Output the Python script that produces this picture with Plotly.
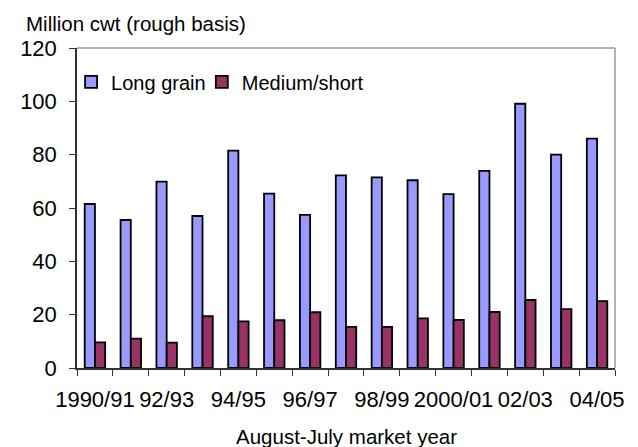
import plotly.graph_objects as go

categories = ["1990/91", "91/92", "92/93", "93/94", "94/95", "95/96", "96/97", "97/98",
              "98/99", "99/00", "2000/01", "01/02", "02/03", "03/04", "04/05"]
long_grain = [61.5, 55.5, 69.9, 57.0, 81.5, 65.4, 57.4, 72.2, 71.5, 70.4, 65.2, 73.9, 99.1, 80.0, 86.0]
medium_short = [9.6, 11.0, 9.5, 19.4, 17.5, 17.9, 20.9, 15.4, 15.4, 18.6, 18.0, 21.0, 25.5, 22.1, 25.1]
tick_text = [c if i % 2 == 0 else "" for i, c in enumerate(categories)]
y_ticks = [0, 20, 40, 60, 80, 100, 120]

FONT = "Liberation Sans, Arial, sans-serif"

fig = go.Figure()
fig.add_trace(go.Bar(x=categories, y=long_grain, name="Long grain", legend="legend",
                     marker=dict(color="#9999FF", line=dict(color="#000000", width=1.8))))
fig.add_trace(go.Bar(x=categories, y=medium_short, name="Medium/short", legend="legend2",
                     marker=dict(color="#993366", line=dict(color="#000000", width=1.8))))

legend_style = dict(orientation="h", xanchor="left", yanchor="middle", y=0.894,
                    font=dict(size=20, family=FONT), bgcolor="rgba(0,0,0,0)",
                    itemclick=False)

# the page body has an 8px margin, so the figure is 8px smaller than the window
fig.update_layout(
    width=630, height=439,
    margin=dict(l=59, r=23, t=40, b=79),
    paper_bgcolor="white", plot_bgcolor="white",
    barmode="group", bargap=0.43, bargroupgap=0,
    font=dict(family=FONT, color="#000000"),
    showlegend=True,
    legend=dict(x=-0.011, **legend_style),
    legend2=dict(x=0.232, **legend_style),
    xaxis=dict(type="category", tickmode="array", tickvals=categories, ticktext=tick_text,
               tickson="boundaries", ticks="outside", ticklen=6, tickcolor="#333333",
               showline=True, linecolor="#333333", linewidth=1.5, showgrid=False,
               tickfont=dict(size=22, family=FONT), tickangle=0,
               range=[-0.5, 14.5], ticklabelstandoff=11),
    yaxis=dict(range=[0, 120], tickvals=y_ticks, ticks="outside", ticklen=6,
               tickcolor="#333333", showline=True, linecolor="#333333", linewidth=1.5,
               showgrid=False, zeroline=False, tickfont=dict(size=22, family=FONT),
               ticklabelstandoff=8),
)

# light grey frame on top and right of plot area
fig.add_shape(type="line", xref="paper", yref="paper", x0=0, x1=1, y0=1, y1=1,
              line=dict(color="#999999", width=1.5))
fig.add_shape(type="line", xref="paper", yref="paper", x0=1, x1=1, y0=0, y1=1,
              line=dict(color="#999999", width=1.5))

fig.add_annotation(text="Million cwt (rough basis)", xref="paper", yref="paper",
                   x=-0.0985, y=1.078, xanchor="left", yanchor="middle", showarrow=False,
                   font=dict(size=20.5, family=FONT))
fig.add_annotation(text="August-July market year", xref="paper", yref="paper",
                   x=0.5, y=-0.2156, xanchor="center", yanchor="middle", showarrow=False,
                   font=dict(size=20.5, family=FONT))

fig.write_html("out.html")
